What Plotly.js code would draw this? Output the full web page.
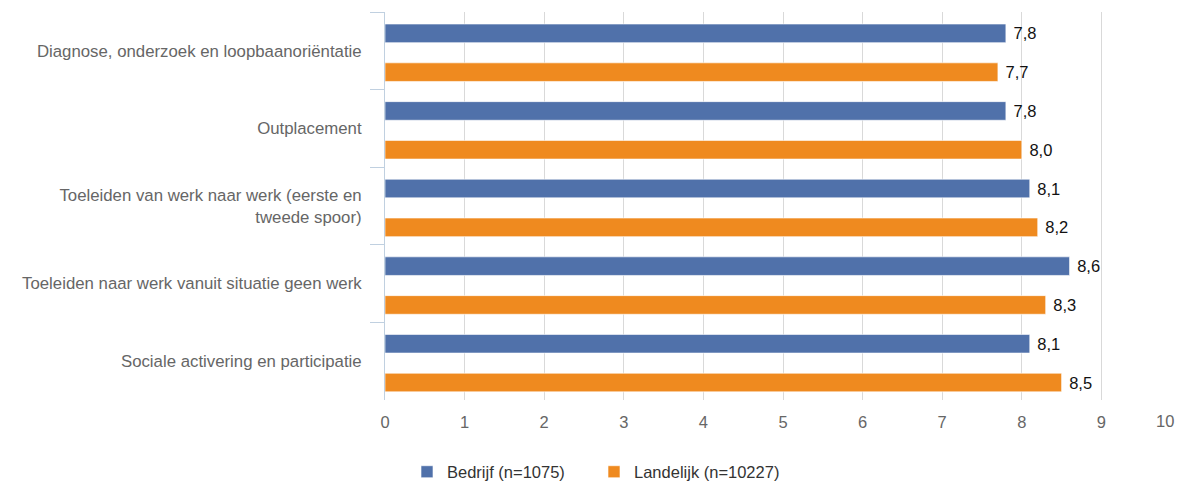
<!DOCTYPE html>
<html>
<head>
<meta charset="utf-8">
<script src="https://cdn.plot.ly/plotly-3.0.1.min.js"></script>
<style>
html, body { margin: 0; padding: 0; background: #fff; overflow: hidden; }
#chart { width: 1230px; height: 483px; }
</style>
</head>
<body>
<div id="chart"></div>
<script>
var categories = [
  "Diagnose, onderzoek en loopbaanoriëntatie",
  "Outplacement",
  "Toeleiden van werk naar werk (eerste en<br>tweede spoor)",
  "Toeleiden naar werk vanuit situatie geen werk",
  "Sociale activering en participatie"
];
var seriesNames = ["Bedrijf (n=1075)", "Landelijk (n=10227)"];
var bedrijf = [7.8, 7.8, 8.1, 8.6, 8.1];
var landelijk = [7.7, 8.0, 8.2, 8.3, 8.5];
var xTicks = [0, 1, 2, 3, 4, 5, 6, 7, 8, 9, 10];
var xTickLabels = ["0", "1", "2", "3", "4", "5", "6", "7", "8", "9", "10"];

var colors = ["#5071aa", "#ef8a1f"];
var FONT = '"Liberation Sans", Arial, sans-serif';

function barTrace(name, values, color, offset) {
  return {
    type: "bar",
    orientation: "h",
    name: name,
    y: categories,
    x: values,
    offset: offset,
    width: 0.24,
    marker: { color: color, line: { color: "rgba(255,255,255,0.6)", width: 1 } },
    texttemplate: "\u00a0%{x:.1f}",
    textposition: "outside",
    constraintext: "none",
    cliponaxis: false,
    textfont: { family: FONT, size: 16.5, color: "#111" },
    hoverinfo: "skip"
  };
}

var data = [
  barTrace(seriesNames[0], bedrijf, colors[0], -0.345),
  barTrace(seriesNames[1], landelijk, colors[1], 0.155)
];

// the last tick label sits at the window edge: draw it right-aligned to its tick
var lastIdx = xTicks.length - 1;
var tickText = xTickLabels.map(function (t, i) { return i === lastIdx ? "" : t; });

var W = 1230;
var layout = {
  width: W,
  height: 483,
  margin: { l: 385, r: W - 1181, t: 12, b: 83, autoexpand: false },
  paper_bgcolor: "#fff",
  plot_bgcolor: "#fff",
  separators: ",.",
  barmode: "group",
  font: { family: FONT, size: 16.5, color: "#666" },
  showlegend: true,
  legend: {
    orientation: "h",
    xref: "container",
    yref: "container",
    x: 407 / W,
    xanchor: "left",
    y: 11 / 483,
    yanchor: "middle",
    entrywidth: 142,
    font: { family: FONT, size: 16.5, color: "#333" },
    traceorder: "normal"
  },
  annotations: [{
    x: xTicks[lastIdx],
    xref: "x",
    y: 0,
    yref: "paper",
    yanchor: "top",
    xanchor: "right",
    xshift: -5,
    yshift: -10,
    showarrow: false,
    text: xTickLabels[lastIdx],
    font: { family: FONT, size: 16.5, color: "#666" }
  }],
  xaxis: {
    range: [0, 10],
    tickvals: xTicks,
    ticktext: tickText,
    showgrid: true,
    gridcolor: "#d9d9d9",
    gridwidth: 1,
    zeroline: false,
    showline: false,
    ticks: "",
    ticklabelstandoff: 10,
    automargin: false,
    tickfont: { family: FONT, size: 16.5, color: "#666" },
    fixedrange: true
  },
  yaxis: {
    type: "category",
    autorange: "reversed",
    showline: true,
    linecolor: "#c0d0e0",
    linewidth: 1,
    ticks: "outside",
    tickson: "boundaries",
    ticklen: 14,
    tickcolor: "#c0d0e0",
    tickwidth: 1,
    showgrid: false,
    automargin: false,
    ticklabelstandoff: 19,
    tickfont: { family: FONT, size: 16.8, color: "#666" },
    fixedrange: true
  }
};

Plotly.newPlot("chart", data, layout, { displayModeBar: false, staticPlot: true });
</script>
</body>
</html>
